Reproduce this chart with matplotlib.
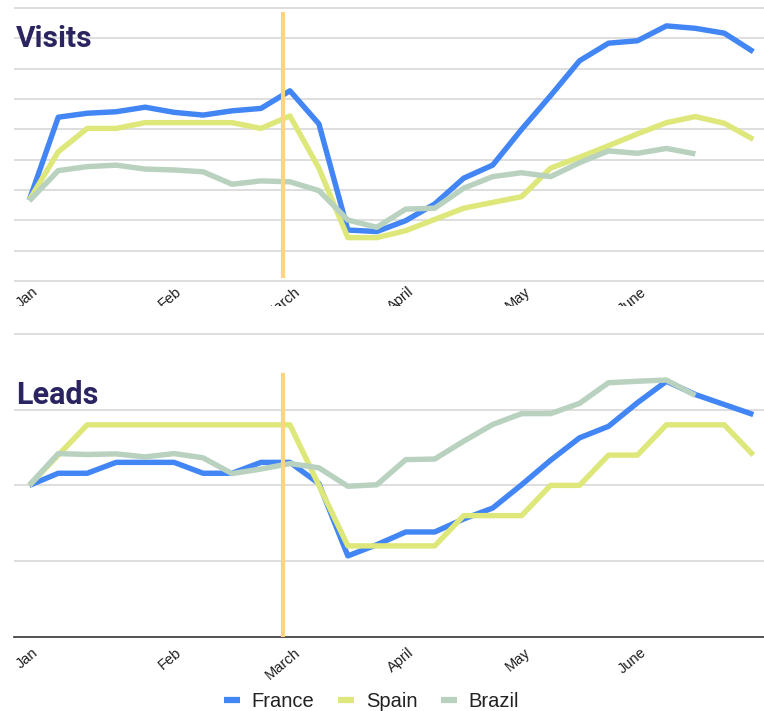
import matplotlib
matplotlib.use("Agg")
import matplotlib.pyplot as plt
from matplotlib.lines import Line2D
from matplotlib.transforms import Bbox, TransformedBbox

plt.rcParams['font.family'] = ['Roboto', 'DejaVu Sans']

# ---------------- data ----------------
weeks = list(range(26))
month_labels = ["Jan", "Feb", "March", "April", "May", "June"]
month_pos = [-0.08, 4.86, 8.76, 12.83, 16.87, 20.84]
marker_month = "March"

visits_france = [267, 540, 553, 558, 573, 556, 547, 561, 569, 627, 518, 168, 163,
                 199, 254, 339, 382, 500, 611, 726, 784, 792, 841, 833, 817, 756]
visits_spain = [267, 426, 503, 503, 522, 522, 522, 522, 503, 544, 372, 143, 143,
                166, 203, 240, 259, 278, 372, 408, 446, 485, 522, 542, 520, 467]
visits_brazil = [264, 364, 377, 382, 369, 366, 360, 319, 330, 327, 298, 201, 177,
                 237, 240, 306, 344, 357, 344, 390, 429, 421, 437, 419]

leads_france = [5.0, 5.4, 5.4, 5.76, 5.76, 5.76, 5.4, 5.4, 5.76, 5.76, 5.06, 2.67, 3.04,
                3.46, 3.46, 3.89, 4.25, 5.02, 5.83, 6.57, 6.95, 7.73, 8.44, 8.0, 7.67, 7.34]
leads_spain = [5, 6, 7, 7, 7, 7, 7, 7, 7, 7, 5, 3, 3,
               3, 3, 4, 4, 4, 5, 5, 6, 6, 7, 7, 7, 6]
leads_brazil = [5.01, 6.05, 6.02, 6.04, 5.94, 6.05, 5.91, 5.39, 5.54, 5.72, 5.58, 4.97, 5.02,
                5.85, 5.87, 6.46, 7.01, 7.37, 7.37, 7.71, 8.39, 8.44, 8.48, 7.97]

series_names = ["France", "Spain", "Brazil"]
colors = ["#4285F4", "#DDE77A", "#B9D1BF"]
marker_color = "#FFD47F"
title_color = "#2A2460"
grid_color = "#D5D5D5"

# ---------------- figure ----------------
W, H = 764, 711
fig = plt.figure(figsize=(W / 100, H / 100), dpi=100)
fig.patch.set_facecolor("white")


def px_axes(left, top, right, bottom):
    return fig.add_axes([left / W, 1 - bottom / H, (right - left) / W, (bottom - top) / H])


xl = (-0.494 - (15 - 14) / 28.96, 25.37)
label_kw = dict(rotation=40, ha="center", va="top", fontsize=10.5, color="#1E1E1E",
                family=["Liberation Sans", "DejaVu Sans"])

# ----- Visits -----
ax1 = px_axes(14, 5, 764, 284)
ax1.set_xlim(*xl)
ax1.set_ylim(-9.9, 909.9)
for vals, c in zip([visits_france, visits_spain, visits_brazil], colors):
    ax1.plot(weeks[:len(vals)], vals, color=c, lw=3.9, solid_joinstyle="round",
             solid_capstyle="butt", zorder=3)
ax1.set_yticks(range(0, 901, 100))
ax1.yaxis.grid(True, color=grid_color, lw=1.1, zorder=0)
ax1.tick_params(axis="y", length=0, labelleft=False)
for s in ax1.spines.values():
    s.set_visible(False)
mx = month_pos[month_labels.index(marker_month)]
ax1.axvline(mx, ymin=(284 - 276) / 279, ymax=(284 - 14) / 279, color=marker_color, lw=3, zorder=5)
ax1.set_xticks(month_pos)
ax1.set_xticklabels(month_labels, **label_kw)
ax1.tick_params(axis="x", length=0, pad=0.5)
fig.text(16 / W, 1 - 47.3 / H, "Visits", fontsize=21.5, fontweight="bold", color=title_color,
         ha="left", va="baseline", zorder=10)
clip = TransformedBbox(Bbox([[0, 1 - 305.5 / H], [1, 1]]), fig.transFigure)
for lab in ax1.get_xticklabels():
    lab.set_clip_on(True)
    lab.set_clip_box(clip)

# ----- Leads -----
ax2 = px_axes(14, 331, 764, 636.7)
ax2.set_xlim(*xl)
ax2.set_ylim(0, 10.1)
for vals, c in zip([leads_france, leads_spain, leads_brazil], colors):
    ax2.plot(weeks[:len(vals)], vals, color=c, lw=3.9, solid_joinstyle="round",
             solid_capstyle="butt", zorder=3)
ax2.set_yticks([2.5, 5, 7.5, 10])
ax2.yaxis.grid(True, color=grid_color, lw=1.1, zorder=0)
ax2.tick_params(axis="y", length=0, labelleft=False)
for k, s in ax2.spines.items():
    s.set_visible(k == "bottom")
ax2.spines["bottom"].set_color("#333333")
ax2.spines["bottom"].set_linewidth(1.2)
ax2.axvline(mx, ymin=0, ymax=(636.7 - 375) / 305.7, color=marker_color, lw=3, zorder=5)
ax2.set_xticks(month_pos)
ax2.set_xticklabels(month_labels, **label_kw)
ax2.tick_params(axis="x", length=0, pad=6)
fig.text(16 / W, 1 - 404 / H, "Leads", fontsize=22, fontweight="bold", color=title_color,
         ha="left", va="baseline", zorder=10)

# ----- legend -----
handles = [Line2D([0], [0], color=c, lw=4.5, solid_capstyle="butt") for c in colors]
fig.legend(handles, series_names, loc="center", bbox_to_anchor=(371.5 / W, 1 - 701.5 / H),
           ncol=3, frameon=False, handlelength=0.8, handletextpad=0.6,
           columnspacing=1.15, labelcolor="#222222", borderpad=0.2,
           prop=dict(family=["Liberation Sans", "DejaVu Sans"], size=14.5))

fig.savefig("out.png", dpi=100, facecolor="white")
